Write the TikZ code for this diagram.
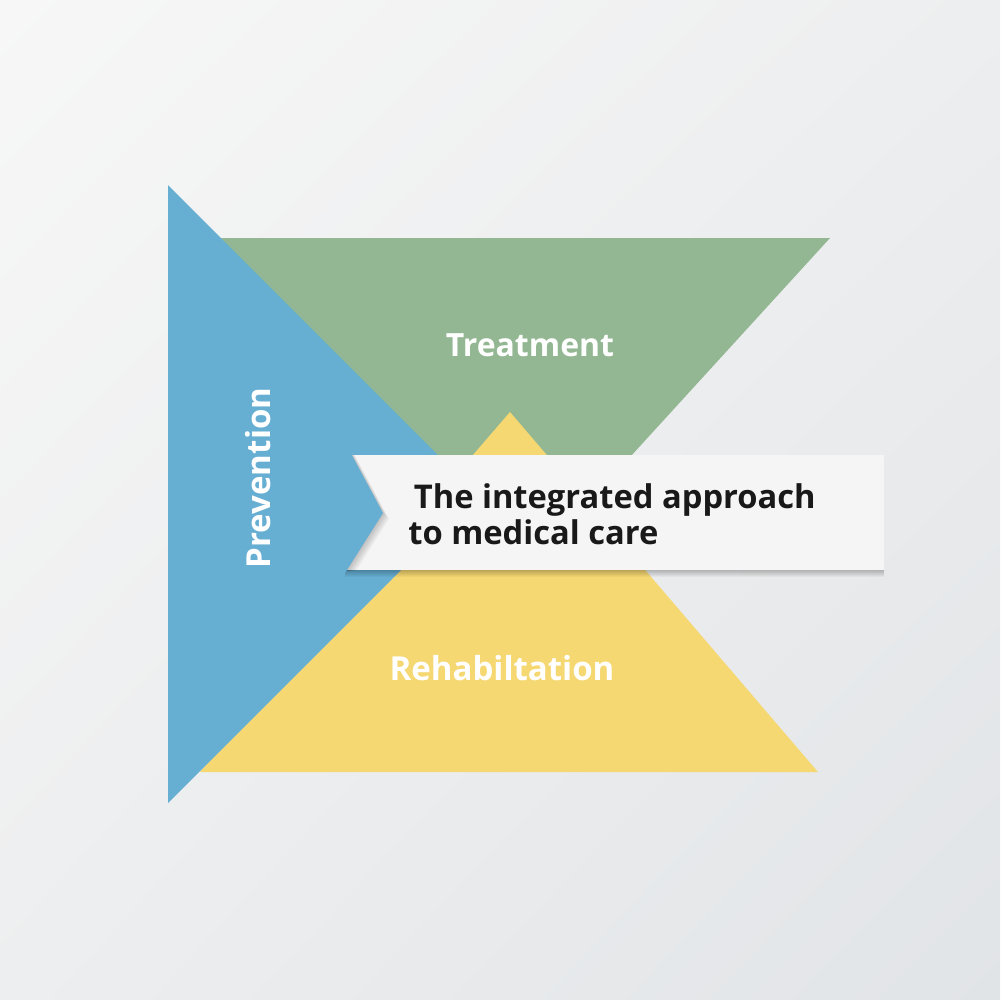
\documentclass[tikz,border=0pt]{standalone}
\usepackage{fontspec}
\setmainfont{Open Sans}
\usepackage{xcolor}
\usetikzlibrary{shadings, positioning}

\definecolor{prevblue}{HTML}{67AED3}
\definecolor{treatgreen}{HTML}{92B792}
\definecolor{rehabyellow}{HTML}{F6D873}
\definecolor{bannerwhite}{HTML}{F5F5F5}
\definecolor{bglight}{HTML}{F7F7F7}
\definecolor{bgmid}{HTML}{EDEEEF}
\definecolor{bgdark}{HTML}{E1E4E7}

\begin{document}
\begin{tikzpicture}[
    x=0.1mm, y=-0.1mm,
    piece/.style={draw=none},
    label/.style={text=white, font=\bfseries\fontsize{9.4}{11}\selectfont},
    softshade/.style={fill=black, opacity=0.035, draw=none}
]
% background
\shade[upper left=bglight, upper right=bgmid, lower left=bgmid, lower right=bgdark]
  (0,0) rectangle (1000,1000);
\useasboundingbox (0,0) rectangle (1000,1000);

% the three pieces
\fill[piece, treatgreen] (221,238) -- (830,238) -- (515,583) -- cycle;
\fill[piece, rehabyellow] (510,412) -- (818,772) -- (200,772) -- cycle;
\fill[piece, prevblue] (168,185) -- (477,494) -- (168,803) -- cycle;

% title band, its soft shadow, and the blue point over it
\foreach \d in {1,...,7}
  \fill[softshade] (345,455+\d) rectangle (884,570+\d);
\fill[bannerwhite] (345,455) rectangle (884,570);
\begin{scope}
  \clip (345,455) rectangle (884,570);
  \foreach \d in {1,...,6}
    \fill[softshade] (290+\d,340+\d) -- (383+\d,513+\d) -- (290+\d,660+\d) -- cycle;
\end{scope}
\fill[piece, prevblue] (290,340) -- (383,513) -- (290,660) -- cycle;

\node[label, font=\bfseries\fontsize{9.1}{11}\selectfont] (treat) at (530,345) {Treatment};
\node[label] (rehab) at (502,668) {Rehabiltation};
\node[label, rotate=90] (prev) at (258,478) {Prevention};
\node[anchor=west, align=left, text=black!90,
  font=\bfseries\fontsize{9.3}{10.3}\selectfont] (title) at (396,514)
  {\,The integrated approach\\to medical care};
\end{tikzpicture}
\end{document}
